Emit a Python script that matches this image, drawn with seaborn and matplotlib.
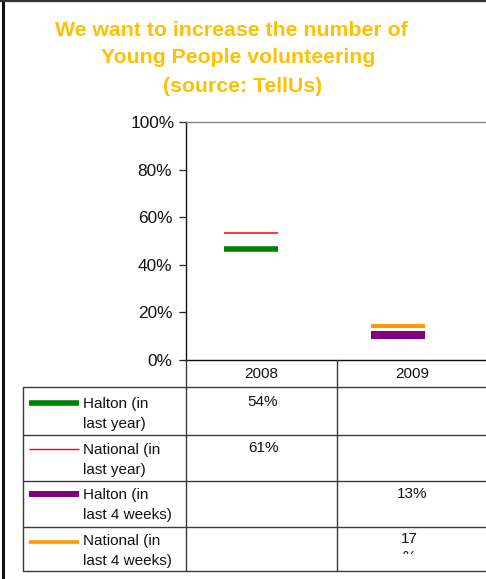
import numpy as np
import pandas as pd
import matplotlib
matplotlib.use("Agg")
import matplotlib.pyplot as plt
import seaborn as sns
from matplotlib.patches import Rectangle
from matplotlib.transforms import ScaledTranslation

# ---------------- data ----------------
years = ["2008", "2009"]
series_labels = [
    "Halton (in\nlast year)",
    "National (in\nlast year)",
    "Halton (in\nlast 4 weeks)",
    "National (in\nlast 4 weeks)",
]
# values as drawn on the chart (%)
halton_last_year = [46.5, np.nan]
national_last_year = [53.5, np.nan]
halton_last_4_weeks = [np.nan, 10.6]
national_last_4_weeks = [np.nan, 14.3]
# data-table labels as printed
table_halton_last_year = ["54%", ""]
table_national_last_year = ["61%", ""]
table_halton_last_4_weeks = ["", "13%"]
table_national_last_4_weeks = ["", "17\n%"]
y_ticks = [0, 20, 40, 60, 80, 100]
title_lines = ["We want to increase the number of",
               "Young People volunteering",
               "(source: TellUs)"]

# ---------------- style ----------------
sns.set_theme(style="white")
plt.rcParams["font.family"] = ["Liberation Sans", "DejaVu Sans"]

W, H = 486, 579
fig = plt.figure(figsize=(W / 100, H / 100), dpi=100)
fig.patch.set_facecolor("white")

def fx(px):
    return px / W

def fy(py):
    return 1 - py / H

# main plot area: x 186..488 px, y 122..360 px
ax = fig.add_axes([fx(186), fy(360), fx(488) - fx(186), fy(122) - fy(360)])
ax.set_facecolor("white")

x_pos = np.arange(len(years))
series = [
    (halton_last_year, "#008000", 4.0),
    (national_last_year, "#FF0000", 1.1),
    (halton_last_4_weeks, "#800080", 5.8),
    (national_last_4_weeks, "#FF9900", 2.9),
]
for vals, col, lw in series:
    df = pd.DataFrame({"x": x_pos, "y": vals}).dropna()
    sns.scatterplot(data=df, x="x", y="y", marker="_", s=1512, linewidth=lw,
                    color=col, edgecolor=col, ax=ax, legend=False, zorder=3)

ax.set_ylim(0, 100)
ax.set_xlim(-65 / 147, 1 + 90 / 147)
ax.set_yticks(y_ticks)
ax.set_yticklabels([f"{t}%" for t in y_ticks], fontsize=12.4, color="#111111")
ax.set_xticks([])
ax.set_xlabel("")
ax.set_ylabel("")
ax.tick_params(axis="y", which="both", left=True, length=5.0, width=0.9,
               color="#222222", pad=4.9, direction="out")
# top label sits a little further right in the reference
lbls = ax.get_yticklabels()
lbls[-1].set_transform(lbls[-1].get_transform() +
                       ScaledTranslation(3 / 100, 0, fig.dpi_scale_trans))
for s in ["left", "bottom"]:
    ax.spines[s].set_visible(True)
    ax.spines[s].set_color("#111111")
    ax.spines[s].set_linewidth(1.0)
ax.spines["top"].set_color("#808080")
ax.spines["top"].set_linewidth(1.0)
ax.spines["right"].set_visible(False)

# ---------------- overlay in pixel coords (table, title, frame) ----------------
ov = fig.add_axes([0, 0, 1, 1], zorder=5)
ov.set_xlim(0, W)
ov.set_ylim(H, 0)
ov.axis("off")
ov.patch.set_alpha(0)

lc = "#3a3a3a"
# frame
ov.plot([3, 3], [0, H], color="#111111", lw=2.2, solid_capstyle="butt")
ov.plot([0, W], [1, 1], color="#333333", lw=1.6, solid_capstyle="butt")

# table grid
ov.plot([186, 186], [360, 571], color=lc, lw=1.0)
ov.plot([337, 337], [360, 571], color=lc, lw=1.0)
ov.plot([23, 23], [387, 571], color=lc, lw=1.0)
for yy in [387, 435, 481, 527, 571]:
    ov.plot([23, W], [yy, yy], color=lc, lw=1.0)

# header
col_centers = [261.5, 412]
for c, yr in zip(col_centers, years):
    ov.text(c, 374, yr, ha="center", va="center", fontsize=11, color="#111111")

# legend rows
row_first_y = [404, 450, 495, 541.5]
swatch_y = [403, 449, 494, 541.5]
swatch_lw = [4.0, 1.0, 4.3, 2.6]
colors = [s[1] for s in series]
tables = [table_halton_last_year, table_national_last_year,
          table_halton_last_4_weeks, table_national_last_4_weeks]
value_centers = [263, 412]
clip_rect = Rectangle((fx(330), fy(554)), fx(160), fy(527) - fy(554),
                      transform=fig.transFigure)
for i, lab in enumerate(series_labels):
    ov.plot([29, 79], [swatch_y[i], swatch_y[i]], color=colors[i],
            lw=swatch_lw[i], solid_capstyle="butt")
    for j, line in enumerate(lab.split("\n")):
        ov.text(83, row_first_y[i] + 20 * j, line, ha="left", va="center",
                fontsize=11, color="#111111")
    for k, txt in enumerate(tables[i]):
        if not txt:
            continue
        parts = txt.split("\n")
        for j, p in enumerate(parts):
            xc = value_centers[k] if len(parts) == 1 else value_centers[k] - 3
            yc = row_first_y[i] - (1.5 if len(parts) == 1 else 2.5) + 18 * j
            t = ov.text(xc, yc, p, ha="center", va="center", fontsize=11,
                        color="#111111")
            if j > 0:
                t.set_clip_on(True)
                t.set_clip_path(clip_rect)

# title
title_centers = [231, 238, 243]
title_baselines = [36, 63, 92]
for line, xc, yb in zip(title_lines, title_centers, title_baselines):
    ov.text(xc, yb, line, ha="center", va="baseline", fontsize=15.3,
            fontweight="bold", color="#FFC000")

fig.savefig("out.png", dpi=100, facecolor="white")
